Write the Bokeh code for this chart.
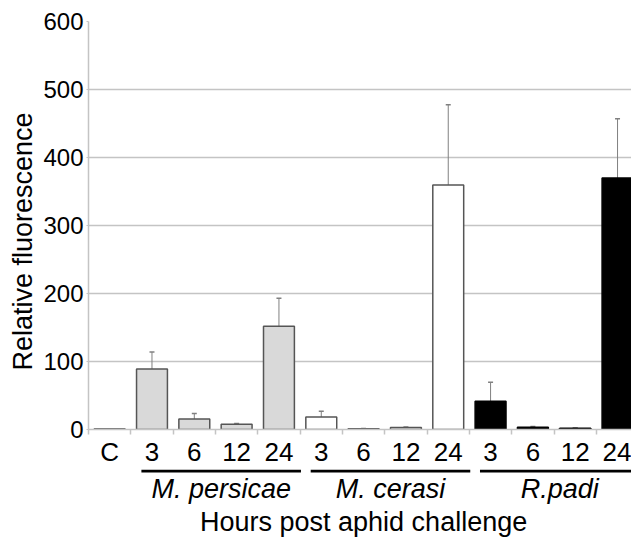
import math
from bokeh.plotting import figure
from bokeh.models import Range1d, FixedTicker, Whisker, ColumnDataSource, TeeHead
from bokeh.layouts import column, row
from bokeh.embed import file_html
from bokeh.resources import INLINE
from bokeh.core.properties import value

# ---- data ----
categories = ["C", "3", "6", "12", "24", "3", "6", "12", "24", "3", "6", "12", "24"]
series = ["Control", "M. persicae", "M. persicae", "M. persicae", "M. persicae",
          "M. cerasi", "M. cerasi", "M. cerasi", "M. cerasi",
          "R.padi", "R.padi", "R.padi", "R.padi"]
means = [0.6, 89, 15.5, 7.8, 152, 18.5, 1.0, 3.0, 359.5, 41.6, 3.4, 2.0, 370]
errors = [0, 25, 8, 1.2, 41, 8.5, 0.3, 0.5, 118, 28, 1.0, 0.3, 87]
group_names = ["M. persicae", "M. cerasi", "R.padi"]
y_ticks = [0, 100, 200, 300, 400, 500, 600]
y_title = "Relative fluorescence"
x_title = "Hours post aphid challenge"

FONT = "Liberation Sans"
fill_by_series = {"Control": "#d9d9d9", "M. persicae": "#d9d9d9", "M. cerasi": "#ffffff", "R.padi": "#000000"}
line_by_series = {"Control": "#404040", "M. persicae": "#555555", "M. cerasi": "#555555", "R.padi": "#000000"}

LW = 40          # left title panel width
MW = 591         # main panel width
H1 = 469
H2 = 71

xs = list(range(len(categories)))
src = ColumnDataSource(dict(
    x=xs, top=means,
    fill=[fill_by_series[s] for s in series],
    line=[line_by_series[s] for s in series],
))

x_range = Range1d(-0.5, 12.33)

p = figure(width=MW, height=H1, x_range=x_range, y_range=Range1d(0, 600),
           output_backend="svg", toolbar_location=None,
           min_border_top=21, min_border_bottom=38, min_border_left=47, min_border_right=0)
p.outline_line_color = None
p.background_fill_color = "white"
p.border_fill_color = "white"

p.vbar(x="x", top="top", bottom=0, width=0.73, source=src,
       fill_color="fill", line_color="line", line_width=1.5)

wsrc = ColumnDataSource(dict(
    x=[x for x, e in zip(xs, errors) if e > 0],
    upper=[m + e for m, e in zip(means, errors) if e > 0],
    lower=[m - e for m, e in zip(means, errors) if e > 0],
))
wc = "#808080"
p.add_layout(Whisker(source=wsrc, base="x", upper="upper", lower="lower",
                     line_color=wc, line_width=1,
                     upper_head=TeeHead(size=5, line_color=wc, line_width=1.5),
                     lower_head=TeeHead(size=5, line_color=wc, line_width=1.5)))

p.xgrid.visible = False
p.ygrid.ticker = FixedTicker(ticks=y_ticks)
p.ygrid.grid_line_color = "#c4c4c4"
p.ygrid.grid_line_width = 1.5

ya = p.yaxis[0]
ya.ticker = FixedTicker(ticks=y_ticks)
ya.axis_line_color = "#c4c4c4"
ya.axis_line_width = 1.5
ya.major_tick_line_color = "#c4c4c4"
ya.major_tick_out = 2
ya.major_tick_in = 0
ya.minor_tick_line_color = None
ya.major_label_standoff = 3
ya.major_label_text_font = FONT
ya.major_label_text_font_size = "24px"
ya.major_label_text_color = "black"

xa = p.xaxis[0]
xa.ticker = FixedTicker(ticks=xs, minor_ticks=[x - 0.5 for x in xs] + [12.5])
xa.major_label_overrides = {x: c for x, c in zip(xs, categories)}
xa.axis_line_color = "#c4c4c4"
xa.axis_line_width = 1.5
xa.major_tick_out = 0
xa.major_tick_in = 0
xa.major_tick_line_color = None
xa.minor_tick_out = 5
xa.minor_tick_in = 0
xa.minor_tick_line_color = "#c4c4c4"
xa.minor_tick_line_width = 1.5
xa.major_label_standoff = 2
xa.major_label_text_font = FONT
xa.major_label_text_font_size = "26px"
xa.major_label_text_color = "black"

# lower panel: group underlines, group names, x title
p2 = figure(width=MW, height=H2, x_range=x_range, y_range=Range1d(H2, 0),
            output_backend="svg", toolbar_location=None,
            x_axis_type=None, y_axis_type=None,
            min_border_top=0, min_border_bottom=0, min_border_left=47, min_border_right=0)
p2.outline_line_color = None
p2.border_fill_color = "white"
p2.background_fill_color = "white"
p2.xgrid.visible = False
p2.ygrid.visible = False

gfirst = [series.index(g) for g in group_names]
glast = [len(series) - 1 - series[::-1].index(g) for g in group_names]
x0 = [f - 0.25 for f in gfirst]
x1 = [l + 0.52 for l in glast]
p2.segment(x0=x0, x1=x1, y0=[1.5] * 3, y1=[1.5] * 3, line_color="black", line_width=3)
p2.text(x=[(a + b) / 2 for a, b in zip(x0, x1)], y=[19.5] * 3, text=group_names,
        text_font=value(FONT), text_font_style="italic", text_font_size="27px",
        text_align="center", text_baseline="alphabetic", text_color="black")
p2.text(x=[6.0], y=[52.5], text=[x_title],
        text_font=value(FONT), text_font_size="27px",
        text_align="center", text_baseline="alphabetic", text_color="black")

# left panel with the y-axis title
pl = figure(width=LW, height=H1 + H2, x_range=Range1d(0, LW), y_range=Range1d(H1 + H2, 0),
            output_backend="svg", toolbar_location=None,
            x_axis_type=None, y_axis_type=None,
            min_border_top=0, min_border_bottom=0, min_border_left=0, min_border_right=0)
pl.outline_line_color = None
pl.background_fill_color = "white"
pl.border_fill_color = "white"
pl.xgrid.visible = False
pl.ygrid.visible = False
pl.text(x=[22], y=[241], text=[y_title], angle=math.pi / 2,
        text_font=value(FONT), text_font_size="27px",
        text_align="center", text_baseline="alphabetic", text_color="black")

layout = row(pl, column(p, p2, spacing=0), spacing=0)
open("out.html", "w").write(file_html(layout, INLINE))
